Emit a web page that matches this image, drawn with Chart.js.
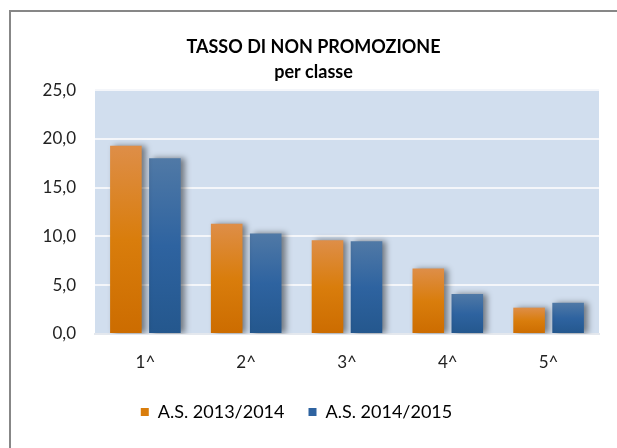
<!DOCTYPE html>
<html>
<head>
<meta charset="utf-8">
<script src="https://cdn.jsdelivr.net/npm/chart.js@4/dist/chart.umd.min.js"></script>
<style>
html,body{margin:0;padding:0;background:#fff}
#wrap{width:617px;height:448px;position:relative}
</style>
</head>
<body>
<div id="wrap"><canvas id="grafico" width="617" height="448"></canvas></div>
<script>
const classi = ['1^','2^','3^','4^','5^'];
const as1314 = [19.3, 11.3, 9.6, 6.7, 2.7];
const as1415 = [18.0, 10.3, 9.5, 4.1, 3.2];
const tickY = [0, 5, 10, 15, 20, 25];

const FONT = 'Lato, "Noto Sans", sans-serif';

// gradiente verticale per ogni barra, dal top della barra alla base
function grad(top, bottom){
  return function(c){
    const ch = c.chart;
    if(!ch.chartArea || c.parsed == null) return bottom[0];
    const y = ch.scales.y;
    const y0 = y.getPixelForValue(0);
    const y1 = y.getPixelForValue(c.parsed.y);
    const g = ch.ctx.createLinearGradient(0, y1, 0, y0);
    g.addColorStop(0, top);
    g.addColorStop(0.5, bottom[0]);
    g.addColorStop(1, bottom[1]);
    return g;
  };
}

const sfondo = {
  id:'sfondo',
  afterLayout(chart){
    // legenda un po' spostata a sinistra come nell'originale
    const l = chart.legend;
    if(l){ l.left -= 17; l.right -= 17; }
  },
  beforeDraw(chart){
    const ctx = chart.ctx, a = chart.chartArea;
    ctx.save();
    ctx.fillStyle = '#fff';
    ctx.fillRect(0,0,chart.width,chart.height);
    ctx.strokeStyle = '#878787';
    ctx.lineWidth = 2;
    ctx.beginPath();
    ctx.moveTo(10, chart.height + 5);
    ctx.lineTo(10, 11);
    ctx.lineTo(chart.width + 5, 11);
    ctx.stroke();
    ctx.fillStyle = '#D1DEEE';
    ctx.fillRect(a.left, a.top, a.right - a.left, a.bottom - a.top);
    ctx.restore();
  },
  beforeDatasetsDraw(chart){
    const ctx = chart.ctx;
    ctx.save();
    ctx.shadowColor = 'rgba(0,0,0,0.45)';
    ctx.shadowBlur = 6;
    ctx.shadowOffsetX = 4;
    ctx.shadowOffsetY = 0;
  },
  afterDatasetsDraw(chart){
    chart.ctx.restore();
  }
};

new Chart(document.getElementById('grafico').getContext('2d'), {
  type:'bar',
  data:{
    labels:classi,
    datasets:[
      {label:'A.S. 2013/2014', data:as1314,
       backgroundColor:grad('#DE8E48',['#D97D0C','#CC6C00']),
       borderWidth:0},
      {label:'A.S. 2014/2015', data:as1415,
       backgroundColor:grad('#5079A6',['#2E63A0','#24578D']),
       borderWidth:0}
    ]
  },
  options:{
    responsive:false,
    animation:false,
    devicePixelRatio:1,
    categoryPercentage:0.774,
    barPercentage:0.81,
    layout:{padding:{left:28, right:18, top:14, bottom:17}},
    plugins:{
      title:{
        display:true,
        text:['TASSO DI NON PROMOZIONE','per classe'],
        color:'#000',
        font:{family:FONT, size:18, weight:'bold', lineHeight:1.39},
        padding:{top:20.5, bottom:5.5}
      },
      legend:{
        position:'bottom',
        labels:{
          color:'#222',
          font:{family:FONT, size:18},
          boxWidth:8, boxHeight:8,
          padding:24,
          generateLabels(chart){
            return chart.data.datasets.map((d,i)=>({
              text:d.label,
              fillStyle: i===0 ? '#D97D0C' : '#2E63A0',
              strokeStyle:'transparent', lineWidth:0, datasetIndex:i, hidden:false
            }));
          }
        }
      },
      tooltip:{enabled:false}
    },
    scales:{
      x:{
        afterFit(s){ s.height = 45; },
        grid:{display:false, drawTicks:false},
        border:{display:true, color:'#E4E8EE', width:2},
        ticks:{color:'#222', font:{family:FONT, size:17}, padding:18}
      },
      y:{
        min:0, max:25,
        afterBuildTicks(s){ s.ticks = tickY.map(v=>({value:v})); },
        afterFit(s){ s.width = 67; },
        grid:{color:'#F4F6FA', lineWidth:2, drawTicks:false},
        border:{display:false},
        ticks:{
          color:'#222', font:{family:FONT, size:17}, padding:19,
          callback:v=>v.toFixed(1).replace('.',',')
        }
      }
    }
  },
  plugins:[sfondo]
});
</script>
</body>
</html>
